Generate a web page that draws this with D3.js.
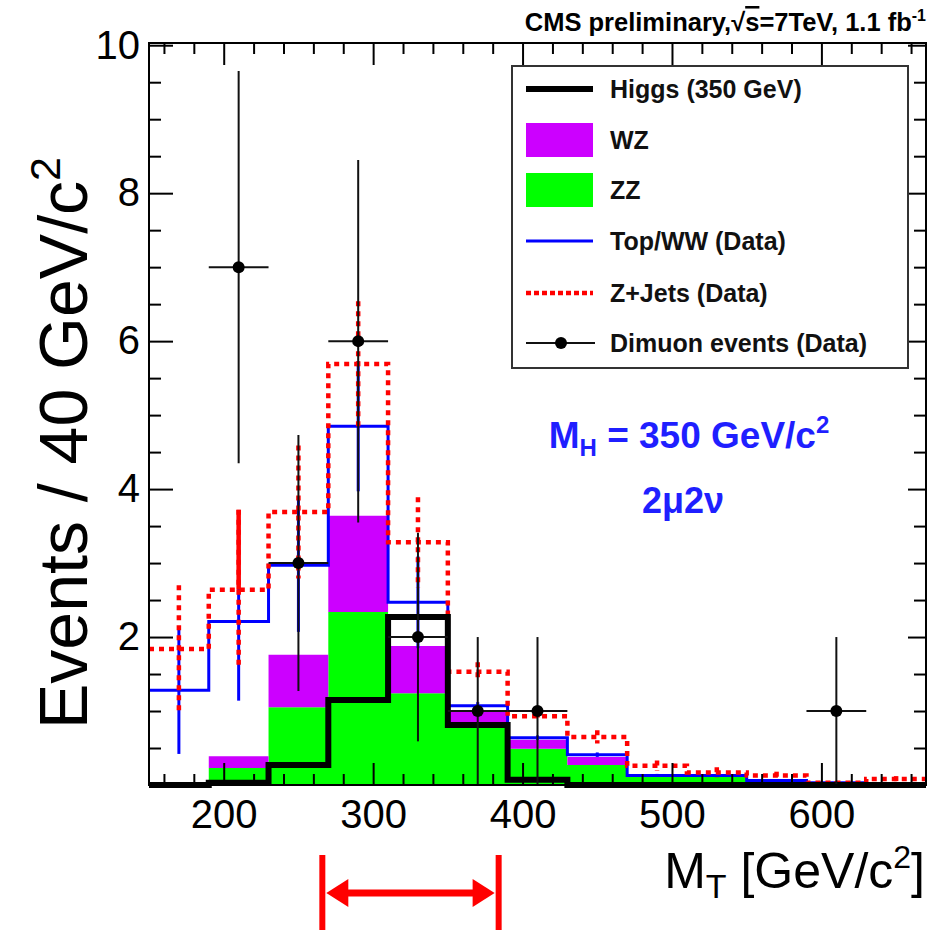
<!DOCTYPE html>
<html>
<head>
<meta charset="utf-8">
<script src="https://cdnjs.cloudflare.com/ajax/libs/d3/7.8.5/d3.min.js"></script>
<style>
  body { margin: 0; background: #fff; }
  svg text { font-family: "Liberation Sans", Arial, Helvetica, sans-serif; }
</style>
</head>
<body>
<div id="chart"></div>
<script>
// Bin lower edges (GeV/c^2), 40 GeV wide bins, last edge 670
var binLow = [150, 190, 230, 270, 310, 350, 390, 430, 470, 510, 550, 590, 630];
var binEnd = 670;

// Stacked background components (events / bin)
var zz     = [0, 0.23, 1.05, 2.34, 1.24, 0.84, 0.49, 0.27, 0.11, 0.11, 0, 0, 0];
var wz     = [0, 0.16, 0.71, 1.30, 0.64, 0.16, 0.12, 0.11, 0.01, 0.01, 0, 0, 0];
var topww  = [1.28, 1.82, 1.21, 1.21, 0.59, 0.07, 0.03, 0.03, 0.01, 0.01, 0.06, 0.03, 0.02];
var zjets  = [0.56, 0.43, 0.72, 0.84, 0.81, 0.46, 0.29, 0.24, 0.13, 0.04, 0.07, 0, 0.06];
var topwwErr = [0.86, 1.07, 0.90, 0.88, 0.62, 0.05, 0.03, 0.03, 0.02, 0.02, 0.02, 0.01, 0.01];
var zjetsErr = [0.86, 1.08, 0.90, 0.85, 0.61, 0.13, 0.05, 0.09, 0.07, 0.07, 0.05, 0.02, 0.04];

// Higgs signal (350 GeV), unstacked
var higgs = [0, 0.03, 0.27, 1.15, 2.27, 0.81, 0.07, 0, 0, 0, 0, 0, 0];

// Dimuon data
var dimuon    = [0, 7, 3, 6, 2, 1, 1, 0, 0, 0, 0, 1, 0];
var dimuonErr = [0, 2.65, 1.73, 2.45, 1.41, 1, 1, 0, 0, 0, 0, 1, 0];

// Axis ticks
var xMajor = [200, 300, 400, 500, 600];
var xMinor = [160, 180, 220, 240, 260, 280, 320, 340, 360, 380, 420, 440, 460, 480, 520, 540, 560, 580, 620, 640, 660];
var yMajor = [2, 4, 6, 8, 10];
var yMinor = [0.5, 1, 1.5, 2.5, 3, 3.5, 4.5, 5, 5.5, 6.5, 7, 7.5, 8.5, 9, 9.5];

// Mass window arrow (GeV/c^2)
var cutWindow = [266, 384];

var W = 929, H = 930;
var svg = d3.select("#chart").append("svg")
    .attr("width", W).attr("height", H);

var x = d3.scaleLinear().domain([150, binEnd]).range([149, 926]);
var y = d3.scaleLinear().domain([0, 10.03]).range([785, 43]);

var rows = binLow.map(function(b, i) {
    return { lo: b, zz: zz[i], wz: wz[i], topww: topww[i], zjets: zjets[i] };
});
var stack = d3.stack().keys(["zz", "wz", "topww", "zjets"])(rows);

// step helpers: repeat the last bin value at the closing edge
function stepPoints(vals) {
    var p = binLow.map(function(b, i) { return [b, vals[i]]; });
    p.push([binEnd, vals[vals.length - 1]]);
    return p;
}
function layerPoints(layer) {
    var p = layer.map(function(d, i) { return { x: binLow[i], y0: d[0], y1: d[1] }; });
    var last = layer[layer.length - 1];
    p.push({ x: binEnd, y0: last[0], y1: last[1] });
    return p;
}

var area = d3.area().curve(d3.curveStepAfter)
    .x(function(d) { return x(d.x); })
    .y0(function(d) { return y(d.y0); })
    .y1(function(d) { return y(d.y1); });
var line = d3.line().curve(d3.curveStepAfter)
    .x(function(d) { return x(d[0]); })
    .y(function(d) { return y(d[1]); });

var plot = svg.append("g");

// filled ZZ and WZ
plot.append("path").attr("d", area(layerPoints(stack[0]))).attr("fill", "#00ff00");
plot.append("path").attr("d", area(layerPoints(stack[1]))).attr("fill", "#cc00ff");

var blueTop = stack[2].map(function(d) { return d[1]; });
var redTop = stack[3].map(function(d) { return d[1]; });

// Top/WW outline and error bars
plot.append("path").attr("d", line(stepPoints(blueTop)))
    .attr("fill", "none").attr("stroke", "#0000ff").attr("stroke-width", 3);
plot.selectAll(".blueErr").data(binLow).enter().append("line")
    .attr("x1", function(d) { return x(d + 20); })
    .attr("x2", function(d) { return x(d + 20); })
    .attr("y1", function(d, i) { return y(blueTop[i] + topwwErr[i]); })
    .attr("y2", function(d, i) { return y(Math.max(0, blueTop[i] - topwwErr[i])); })
    .attr("stroke", "#0000ff").attr("stroke-width", 3);

// Z+Jets outline and error bars (dotted)
plot.append("path").attr("d", line(stepPoints(redTop)))
    .attr("fill", "none").attr("stroke", "#ff0000").attr("stroke-width", 4.5)
    .attr("stroke-dasharray", "5,5");
plot.selectAll(".redErr").data(binLow).enter().append("line")
    .attr("x1", function(d) { return x(d + 20); })
    .attr("x2", function(d) { return x(d + 20); })
    .attr("y1", function(d, i) { return y(redTop[i] + zjetsErr[i]); })
    .attr("y2", function(d, i) { return y(Math.max(0, redTop[i] - zjetsErr[i])); })
    .attr("stroke", "#ff0000").attr("stroke-width", 4.5)
    .attr("stroke-dasharray", "5,5");
// the upper half of the second bin's Z+Jets bar shows solid
plot.append("line")
    .attr("x1", x(binLow[1] + 20)).attr("x2", x(binLow[1] + 20))
    .attr("y1", y(redTop[1] + zjetsErr[1])).attr("y2", y(redTop[1]))
    .attr("stroke", "#ff0000").attr("stroke-width", 4.5);

// Higgs signal
plot.append("path").attr("d", line(stepPoints(higgs)))
    .attr("fill", "none").attr("stroke", "#000").attr("stroke-width", 6)
    .attr("stroke-linejoin", "miter");

// Dimuon data points
var pts = binLow.map(function(b, i) { return { lo: b, v: dimuon[i], e: dimuonErr[i] }; })
    .filter(function(d) { return d.v > 0; });
var dp = plot.selectAll(".pt").data(pts).enter().append("g");
dp.append("line")
    .attr("x1", function(d) { return x(d.lo + 20); })
    .attr("x2", function(d) { return x(d.lo + 20); })
    .attr("y1", function(d) { return y(d.v + d.e); })
    .attr("y2", function(d) { return y(d.v - d.e); })
    .attr("stroke", "#111").attr("stroke-width", 2);
dp.append("line")
    .attr("x1", function(d) { return x(d.lo); })
    .attr("x2", function(d) { return x(d.lo + 40); })
    .attr("y1", function(d) { return y(d.v); })
    .attr("y2", function(d) { return y(d.v); })
    .attr("stroke", "#111").attr("stroke-width", 2);
dp.append("circle")
    .attr("cx", function(d) { return x(d.lo + 20); })
    .attr("cy", function(d) { return y(d.v); })
    .attr("r", 6).attr("fill", "#000");

// Axes (ticks inward)
function styleAxis(g) {
    g.select(".domain").remove();
    g.selectAll(".tick line").attr("stroke", "#000").attr("stroke-width", 2);
    g.attr("font-family", "Liberation Sans, Arial, sans-serif").attr("font-size", 40);
    g.selectAll("text").attr("fill", "#000");
}
svg.append("g").attr("transform", "translate(0,785)")
    .call(d3.axisBottom(x).tickValues(xMajor).tickSizeInner(-22).tickSizeOuter(0).tickPadding(15))
    .call(styleAxis);
svg.append("g").attr("transform", "translate(0,785)")
    .call(d3.axisBottom(x).tickValues(xMinor).tickSizeInner(-11).tickSizeOuter(0).tickFormat(""))
    .call(styleAxis);
svg.append("g").attr("transform", "translate(0,43)")
    .call(d3.axisTop(x).tickValues(xMajor).tickSizeInner(-22).tickSizeOuter(0).tickFormat(""))
    .call(styleAxis);
svg.append("g").attr("transform", "translate(0,43)")
    .call(d3.axisTop(x).tickValues(xMinor).tickSizeInner(-11).tickSizeOuter(0).tickFormat(""))
    .call(styleAxis);
svg.append("g").attr("transform", "translate(149,0)")
    .call(d3.axisLeft(y).tickValues(yMajor).tickSizeInner(-24).tickSizeOuter(0).tickPadding(9))
    .call(styleAxis);
svg.append("g").attr("transform", "translate(149,0)")
    .call(d3.axisLeft(y).tickValues(yMinor).tickSizeInner(-12).tickSizeOuter(0).tickFormat(""))
    .call(styleAxis);
svg.append("g").attr("transform", "translate(926,0)")
    .call(d3.axisRight(y).tickValues(yMajor).tickSizeInner(-18).tickSizeOuter(0).tickFormat(""))
    .call(styleAxis);
svg.append("g").attr("transform", "translate(926,0)")
    .call(d3.axisRight(y).tickValues(yMinor).tickSizeInner(-12).tickSizeOuter(0).tickFormat(""))
    .call(styleAxis);

// Frame
svg.append("rect").attr("x", 149).attr("y", 43).attr("width", 926 - 149).attr("height", 785 - 43)
    .attr("fill", "none").attr("stroke", "#000").attr("stroke-width", 2);

// Axis titles
var xt = svg.append("text").attr("x", 925).attr("y", 888)
    .attr("text-anchor", "end").attr("font-size", 50).attr("fill", "#000");
xt.append("tspan").text("M");
xt.append("tspan").attr("dy", 10).attr("font-size", 34).text("T");
xt.append("tspan").attr("dy", -10).text(" [GeV/c");
xt.append("tspan").attr("dy", -20).attr("font-size", 32).text("2");
xt.append("tspan").attr("dy", 20).text("]");

var yt = svg.append("text").attr("transform", "rotate(-90)")
    .attr("x", -443).attr("y", 87)
    .attr("text-anchor", "middle").attr("font-size", 68).attr("fill", "#000");
yt.append("tspan").text("Events / 40 GeV/c");
yt.append("tspan").attr("dy", -27).attr("font-size", 43).text("2");

// Title
var tt = svg.append("text").attr("x", 926).attr("y", 31)
    .attr("text-anchor", "end").attr("font-size", 25.5).attr("font-weight", "bold").attr("fill", "#000");
tt.append("tspan").text("CMS preliminary,\u221A");
tt.append("tspan").attr("text-decoration", "overline").text("s");
tt.append("tspan").text("=7TeV, 1.1 fb");
tt.append("tspan").attr("dy", -10).attr("font-size", 16).text("-1");

// Legend
var lg = svg.append("g");
lg.append("rect").attr("x", 512).attr("y", 66).attr("width", 396).attr("height", 302)
    .attr("fill", "#fff").attr("stroke", "#333").attr("stroke-width", 2);
var legendLabels = ["Higgs (350 GeV)", "WZ", "ZZ", "Top/WW (Data)", "Z+Jets (Data)", "Dimuon events (Data)"];
var legendY = [89, 140, 190, 241, 293, 343];
lg.append("line").attr("x1", 526).attr("x2", 593).attr("y1", legendY[0]).attr("y2", legendY[0])
    .attr("stroke", "#000").attr("stroke-width", 6);
lg.append("rect").attr("x", 526).attr("y", legendY[1] - 17).attr("width", 67).attr("height", 34).attr("fill", "#cc00ff");
lg.append("rect").attr("x", 526).attr("y", legendY[2] - 17).attr("width", 67).attr("height", 34).attr("fill", "#00ff00");
lg.append("line").attr("x1", 526).attr("x2", 593).attr("y1", legendY[3]).attr("y2", legendY[3])
    .attr("stroke", "#0000ff").attr("stroke-width", 3);
lg.append("line").attr("x1", 526).attr("x2", 593).attr("y1", legendY[4]).attr("y2", legendY[4])
    .attr("stroke", "#ff0000").attr("stroke-width", 4.5).attr("stroke-dasharray", "5,3");
lg.append("line").attr("x1", 526).attr("x2", 595).attr("y1", legendY[5]).attr("y2", legendY[5])
    .attr("stroke", "#111").attr("stroke-width", 2);
lg.append("circle").attr("cx", 561).attr("cy", legendY[5]).attr("r", 6).attr("fill", "#000");
lg.selectAll(".lt").data(legendLabels).enter().append("text")
    .attr("x", 610).attr("y", function(d, i) { return legendY[i]; })
    .attr("dy", "0.36em").attr("font-size", 25).attr("font-weight", "bold").attr("fill", "#111")
    .text(function(d) { return d; });

// Annotations
var a1 = svg.append("text").attr("x", 689).attr("y", 448).attr("text-anchor", "middle")
    .attr("font-size", 37).attr("font-weight", "bold").attr("fill", "#1f1fff");
a1.append("tspan").text("M");
a1.append("tspan").attr("dy", 8).attr("font-size", 24).text("H");
a1.append("tspan").attr("dy", -8).text(" = 350 GeV/c");
a1.append("tspan").attr("dy", -15).attr("font-size", 24).text("2");
svg.append("text").attr("x", 683).attr("y", 513).attr("text-anchor", "middle")
    .attr("font-size", 36).attr("font-weight", "bold").attr("fill", "#1f1fff")
    .text("2\u03BC2\u03BD");

// Mass window arrow
var arrow = svg.append("g").attr("fill", "#ff0000").attr("stroke", "#ff0000");
cutWindow.forEach(function(v) {
    arrow.append("line").attr("x1", x(v)).attr("x2", x(v)).attr("y1", 855).attr("y2", 930)
        .attr("stroke-width", 6);
});
var ax0 = x(cutWindow[0]) + 4, ax1 = x(cutWindow[1]) - 4;
arrow.append("line").attr("x1", ax0 + 18).attr("x2", ax1 - 18).attr("y1", 893).attr("y2", 893)
    .attr("stroke-width", 7);
arrow.append("path").attr("stroke", "none")
    .attr("d", "M" + ax0 + ",893L" + (ax0 + 22) + ",879L" + (ax0 + 22) + ",907Z");
arrow.append("path").attr("stroke", "none")
    .attr("d", "M" + ax1 + ",893L" + (ax1 - 22) + ",879L" + (ax1 - 22) + ",907Z");
</script>
</body>
</html>
